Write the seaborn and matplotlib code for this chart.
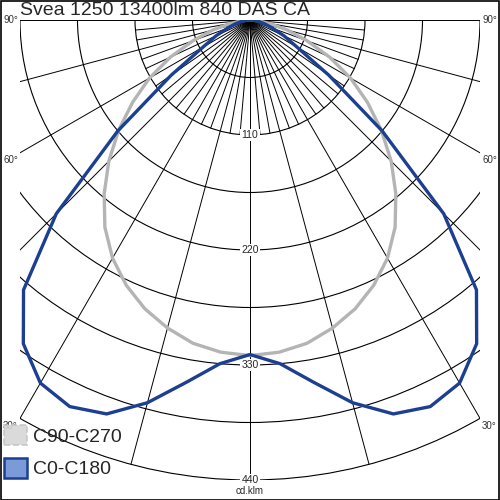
import matplotlib
matplotlib.use("Agg")
import matplotlib.pyplot as plt
import numpy as np
import pandas as pd
import seaborn as sns
from matplotlib.patches import Circle, Patch, Rectangle

# --- data (cd/klm per gamma angle, symmetric curves) ---
TITLE = "Svea 1250 13400lm 840 DAS CA"
GAMMA = [0, 5, 10, 15, 20, 25, 30, 35, 40, 45, 50, 55, 60, 65, 70, 75, 80, 85, 90]
C90_C270 = [321, 319, 314, 305, 294, 280, 263, 242, 217, 191, 164, 137, 111, 84, 58, 37, 19, 7, 0]
C0_C180 = [320, 330, 352, 379, 401, 408, 401, 378, 337, 262, 165, 92, 52, 36, 23, 15, 9, 4, 0]
RING_VALUES = [55, 110, 165, 220, 275, 330, 385, 440]
RING_LABELS = [110, 220, 330, 440]
ANGLE_LABELS = [90, 60, 30]
UNIT = "cd.klm"
SERIES = ["C90-C270", "C0-C180"]

# --- styles ---
GRAY = "#b4b4b4"
BLUE = "#1c3f91"
R_MAX = 440
X_HALF = 220

sns.set_style("white")
plt.rcParams["font.family"] = ["Liberation Sans", "DejaVu Sans"]


def to_xy(gamma, values):
    """Mirror one half-curve to both sides and convert to cartesian."""
    g = np.array(gamma, dtype=float)
    v = np.array(values, dtype=float)
    g_full = np.concatenate((-g[::-1], g[1:]))
    v_full = np.concatenate((v[::-1], v[1:]))
    rad = np.deg2rad(g_full)
    return pd.DataFrame({"x": v_full * np.sin(rad), "y": -v_full * np.cos(rad)})


fig = plt.figure(figsize=(5, 5), dpi=100)
ax = fig.add_axes([20 / 500, 20 / 500, 460 / 500, 460 / 500])

# grid rings
for r in RING_VALUES:
    ax.add_patch(Circle((0, 0), r, fill=False, lw=0.8, ec="black", zorder=1))

# grid rays: every 15 deg full length, 5 deg steps near the centre
for a in range(-90, 91, 5):
    length = R_MAX if a % 15 == 0 else 110
    rad = np.deg2rad(a)
    ax.plot([0, length * np.sin(rad)], [0, -length * np.cos(rad)],
            color="black", lw=0.7, zorder=1)

# ring labels (under the curves)
for v in RING_LABELS:
    ax.text(0, -v, str(v), ha="center", va="center", fontsize=7.5,
            bbox=dict(fc="white", ec="none", pad=1.0), zorder=2, clip_on=False)
ax.text(0, -R_MAX - 11, UNIT, ha="center", va="center", fontsize=7,
        zorder=2, clip_on=False)

# curves
gray_df = to_xy(GAMMA, C90_C270)
blue_df = to_xy(GAMMA, C0_C180)
sns.lineplot(data=gray_df, x="x", y="y", sort=False, estimator=None,
             color=GRAY, lw=2.4, ax=ax, zorder=3)
sns.lineplot(data=blue_df, x="x", y="y", sort=False, estimator=None,
             color=BLUE, lw=2.4, ax=ax, zorder=4)
ax.set_xlim(-X_HALF, X_HALF)
ax.set_ylim(-R_MAX, 0)
ax.set_aspect("equal")
ax.axis("off")

# angle labels
for a in ANGLE_LABELS:
    rad = np.deg2rad(a)
    if a == 90:
        y = 0
    else:
        y = -X_HALF / np.tan(rad) - 7
    ax.text(-X_HALF - 2, y, f"{a}°", ha="right", va="center", fontsize=7,
            color="#333333", clip_on=False)
    ax.text(X_HALF + 2, y, f"{a}°", ha="left", va="center", fontsize=7,
            color="#333333", clip_on=False)

fig.text(20 / 500, 1 - 2 / 500, TITLE, ha="left", va="top", fontsize=14)

handles = [
    Patch(facecolor="#d6d6d6", edgecolor="#c4c4c4", linestyle="--", lw=1.2, alpha=0.9),
    Patch(facecolor="#7b9ad8", edgecolor=BLUE, lw=1.8),
]
leg = fig.legend(handles, SERIES, loc="lower left", bbox_to_anchor=(0.0, 0.036),
                 frameon=False, fontsize=14, handlelength=1.2, handleheight=1.2,
                 handletextpad=0.3, labelspacing=0.6, borderaxespad=0.0,
                 borderpad=0.2)

fig.add_artist(Rectangle((0.001, 0.001), 0.997, 0.997, transform=fig.transFigure,
                         fill=False, ec="black", lw=1.2))

fig.savefig("out.png", dpi=100)
